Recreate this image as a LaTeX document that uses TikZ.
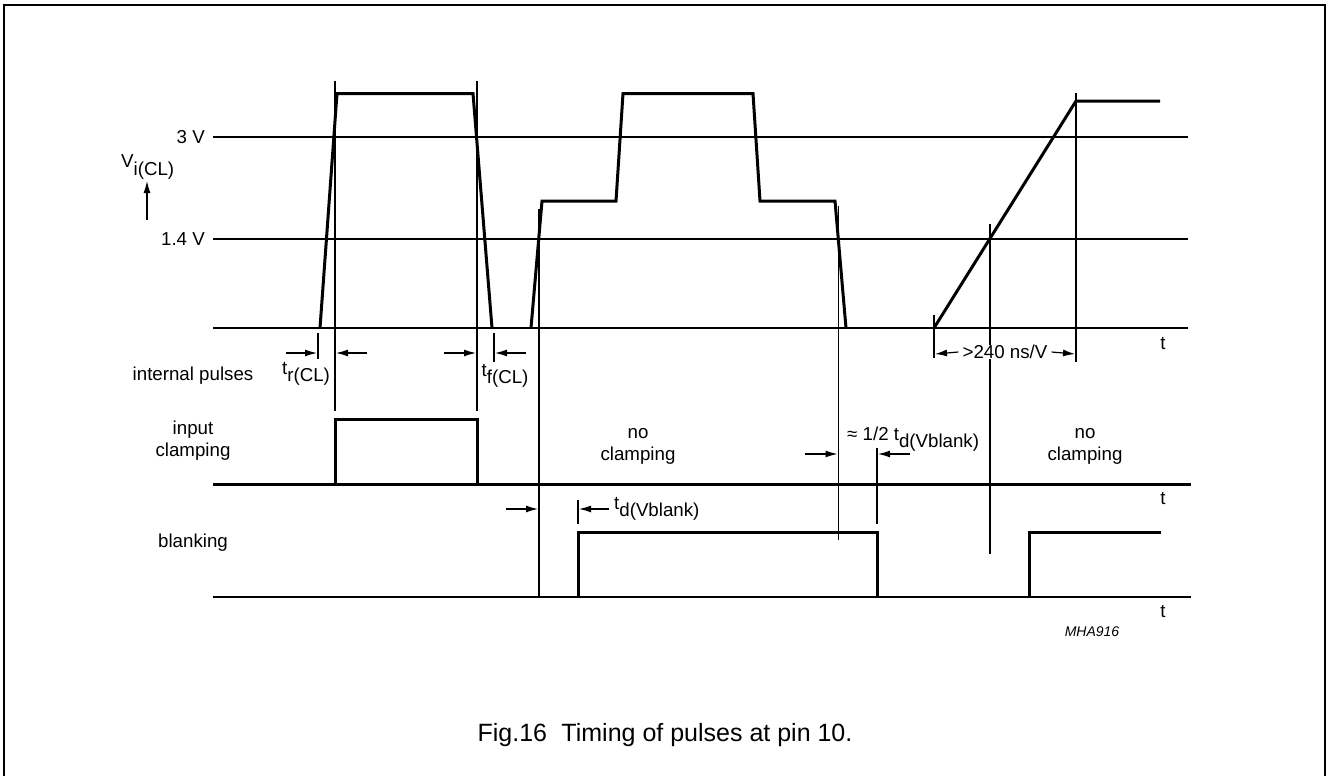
\documentclass[tikz,border=0pt]{standalone}
\usepackage{fontspec}
\setmainfont{Liberation Sans}
\usetikzlibrary{arrows.meta}

\newcommand{\lowsub}[1]{\raisebox{-0.38em}{#1}}

\tikzset{
	gridline/.style={line width=1.2pt},
	trace/.style={line width=3pt, line join=miter},
	marker/.style={line width=1.2pt},
	pointer/.style={line width=1.2pt, -{Latex[length=12pt, width=7pt]}},
	label/.style={inner sep=0pt, font=\fontsize{18.7}{22}\selectfont, align=center}
}

\begin{document}
\begin{tikzpicture}[x=1pt, y=-1pt]

		\useasboundingbox (0, 0) rectangle (1328, 776);
		\draw[line width=1.8pt] (4, 776) to (4, 5) to (1325, 5) to (1325, 776);

		\draw[gridline] (213, 137) to (1188, 137);
		\draw[gridline] (213, 239) to (1188, 239);
		\draw[gridline] (213, 328) to (1188, 328);
		\draw[trace] (213, 484) to (1191, 484);
		\draw[gridline] (213, 597) to (1191, 597);

		\draw[trace] (320, 328) to (337, 93.5) to (473, 93.5) to (492, 328);
		\draw[trace] (531, 328) to (542, 201) to (616, 201) to (623, 93.5) to (753, 93.5)
			to (760, 201) to (835, 201) to (846, 328);
		\draw[trace] (934, 328) to (1076, 101) to (1160, 101);

		\draw[trace] (335, 484) to (335, 419) to (477, 419) to (477, 484);
		\draw[trace] (578, 597) to (578, 532) to (877, 532) to (877, 597);
		\draw[trace] (1029, 597) to (1029, 532) to (1161, 532);

			\draw[marker] (335, 81) to (335, 411);
			\draw[marker] (477, 81) to (477, 411);
			\draw[marker] (539, 209) to (539, 596);
			\draw[marker] (838.5, 206) to (838.5, 540);
			\draw[marker] (877, 448) to (877, 524);
			\draw[marker] (990, 224) to (990, 554);
			\draw[marker] (1076, 93) to (1076, 362);
			\draw[marker] (934, 315) to (934, 358);
			\draw[marker] (318, 333) to (318, 359);
			\draw[marker] (494, 333) to (494, 362);
			\draw[marker] (578, 500) to (578, 524);

		\draw[pointer] (286, 353) to (317, 353);
		\draw[pointer] (367, 353) to (336, 353);
		\draw[pointer] (444, 353) to (476, 353);
		\draw[pointer] (526, 353) to (495, 353);
		\draw[pointer] (805, 454) to (837.5, 454);
		\draw[pointer] (910, 454) to (878, 454);
		\draw[pointer] (506, 509) to (538, 509);
		\draw[pointer] (609, 509) to (579, 509);
		\draw[pointer] (147, 220) to (147, 181);

		\node[label, fill=white, inner xsep=4pt] (slope) at(1005, 352){>240 ns/V};
		\draw[pointer] (slope.west) to (935, 354);
		\draw[pointer] (slope.east) to (1075, 354);

		\node[label, anchor=east] at(205, 137){3 V};
		\node[label, anchor=east] at(205, 239){1.4 V};
		\node[label, anchor=west] at(121, 167){V\lowsub{i(CL)}};

		\node[label] at(193, 376){internal pulses};
		\node[label] at(193, 441){input\\clamping};
		\node[label] at(193, 543){blanking};

		\node[label] at(306, 374){t\lowsub{r(CL)}};
		\node[label] at(505, 376){t\lowsub{f(CL)}};
		\node[label] at(638, 446){no\\clamping};
		\node[label] at(1085, 446){no\\clamping};
		\node[label, anchor=west] at(847, 439){≈ 1/2 t\lowsub{d(Vblank)}};
		\node[label, anchor=west] at(614, 509){t\lowsub{d(Vblank)}};

		\node[label] at(1163, 344){t};
		\node[label] at(1163, 499){t};
		\node[label] at(1163, 612){t};

		\node[inner sep=0pt, font=\fontsize{14}{16}\selectfont\itshape] at(1092, 632){MHA916};
		\node[inner sep=0pt, font=\fontsize{25}{30}\selectfont] at(665, 735){Fig.16\hspace{0.3em} Timing of pulses at pin 10.};

	\end{tikzpicture}
\end{document}
